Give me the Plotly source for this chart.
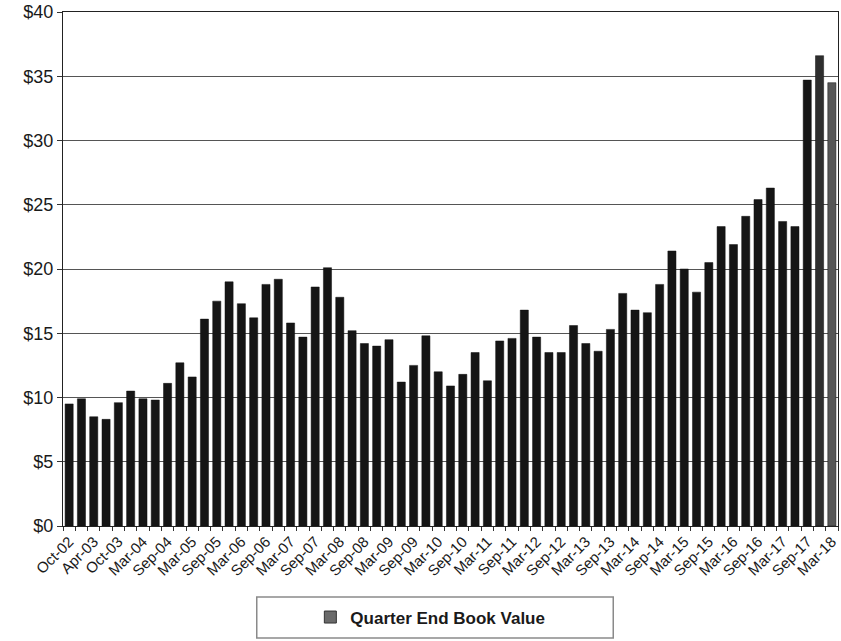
import plotly.graph_objects as go

quarters = ["Oct-02", "Jan-03", "Apr-03", "Jul-03", "Oct-03", "Dec-03", "Mar-04", "Jun-04",
            "Sep-04", "Dec-04", "Mar-05", "Jun-05", "Sep-05", "Dec-05", "Mar-06", "Jun-06",
            "Sep-06", "Dec-06", "Mar-07", "Jun-07", "Sep-07", "Dec-07", "Mar-08", "Jun-08",
            "Sep-08", "Dec-08", "Mar-09", "Jun-09", "Sep-09", "Dec-09", "Mar-10", "Jun-10",
            "Sep-10", "Dec-10", "Mar-11", "Jun-11", "Sep-11", "Dec-11", "Mar-12", "Jun-12",
            "Sep-12", "Dec-12", "Mar-13", "Jun-13", "Sep-13", "Dec-13", "Mar-14", "Jun-14",
            "Sep-14", "Dec-14", "Mar-15", "Jun-15", "Sep-15", "Dec-15", "Mar-16", "Jun-16",
            "Sep-16", "Dec-16", "Mar-17", "Jun-17", "Sep-17", "Dec-17", "Mar-18"]

book_value = [9.5, 9.9, 8.5, 8.3, 9.6, 10.5, 9.9, 9.8,
              11.1, 12.7, 11.6, 16.1, 17.5, 19.0, 17.3, 16.2,
              18.8, 19.2, 15.8, 14.7, 18.6, 20.1, 17.8, 15.2,
              14.2, 14.0, 14.5, 11.2, 12.5, 14.8, 12.0, 10.9,
              11.8, 13.5, 11.3, 14.4, 14.6, 16.8, 14.7, 13.5,
              13.5, 15.6, 14.2, 13.6, 15.3, 18.1, 16.8, 16.6,
              18.8, 21.4, 20.0, 18.2, 20.5, 23.3, 21.9, 24.1,
              25.4, 26.3, 23.7, 23.3, 34.7, 36.6, 34.5]

y_ticks = [0, 5, 10, 15, 20, 25, 30, 35, 40]
y_tick_labels = ["$0", "$5", "$10", "$15", "$20", "$25", "$30", "$35", "$40"]

series_name = "Quarter End Book Value"

bar_colors = ["#151515"] * (len(quarters) - 2) + ["#2e2e2e", "#575757"]
tick_text = [q if i % 2 == 0 else "" for i, q in enumerate(quarters)]

fig = go.Figure()
fig.add_trace(go.Bar(
    x=quarters, y=book_value, showlegend=False,
    marker=dict(color=bar_colors, line=dict(color="#111111", width=0.5)),
))
# legend-only entry (no visible bar)
fig.add_trace(go.Bar(
    x=[quarters[0]], y=[None], name=series_name, showlegend=True,
    marker=dict(color="#6a6a6a", line=dict(color="#333333", width=1)),
))

fig.update_layout(
    width=841, height=641,
    margin=dict(l=63, r=3, t=12, b=115),
    paper_bgcolor="white", plot_bgcolor="white",
    font=dict(family="Arial, Liberation Sans, sans-serif", color="#1a1a1a"),
    barmode="overlay",
    bargap=0.34,
    showlegend=True,
    legend=dict(
        orientation="h", x=0.474, y=-0.178, xanchor="center", yanchor="middle",
        bgcolor="rgba(0,0,0,0)", borderwidth=0,
        font=dict(size=17, family="Arial, Liberation Sans, sans-serif", color="#1a1a1a",
                  weight="bold"),
    ),
    shapes=[dict(type="rect", xref="paper", yref="paper",
                 x0=0.250, x1=0.710, y0=-0.218, y1=-0.138,
                 line=dict(color="#8a8a8a", width=1.5), fillcolor="rgba(0,0,0,0)")],
)

fig.update_xaxes(
    type="category", automargin=False,
    tickmode="array", tickvals=quarters, ticktext=tick_text,
    tickangle=-45, tickfont=dict(size=15),
    tickson="boundaries", ticks="outside", ticklen=4, tickcolor="#333333",
    showgrid=False,
    showline=True, linecolor="#222222", linewidth=1.2, mirror=True,
    range=[-0.5, len(quarters) - 0.5],
)
fig.update_yaxes(
    range=[0, 40], automargin=False,
    tickmode="array", tickvals=y_ticks, ticktext=y_tick_labels,
    tickfont=dict(size=18),
    ticks="outside", ticklen=5, tickcolor="#333333",
    showgrid=True, gridcolor="#555555", gridwidth=1,
    showline=True, linecolor="#222222", linewidth=1.2, mirror=True,
    zeroline=False,
)

fig.write_html(
    "out.html",
    config={"displayModeBar": False},
    post_script="document.body.style.margin='0';document.body.style.padding='0';"
                "document.body.style.overflow='hidden';",
)
